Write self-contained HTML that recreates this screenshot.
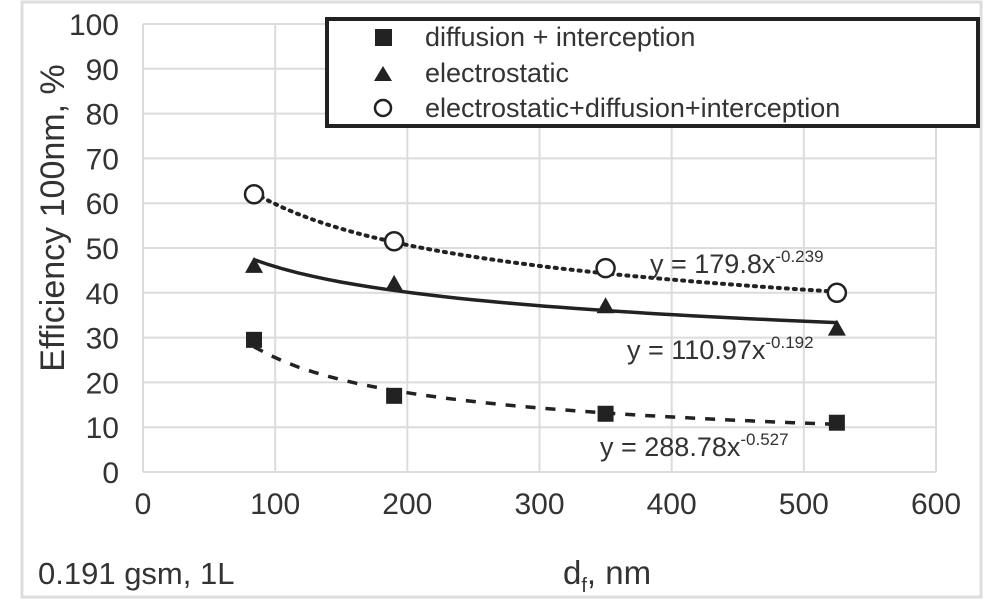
<!DOCTYPE html>
<html><head><meta charset="utf-8"><style>
body{margin:0;background:#fff;}
svg{display:block;font-family:"Liberation Sans",Arial,sans-serif;}
</style></head><body>
<svg id="c" width="1000" height="612" viewBox="0 0 1000 612">
<rect x="22" y="2" width="959" height="595" fill="#fff" stroke="#ddd" stroke-width="3"/>
<g id="grid"></g><g id="axes"></g><g id="series"></g>
<text x="38" y="584" font-size="31" fill="#333">0.191 gsm, 1L</text>
<text x="563" y="584" font-size="33" fill="#333">d<tspan font-size="20" dy="8">f</tspan><tspan dy="-8">, nm</tspan></text>
<text transform="translate(64,218) rotate(-90)" text-anchor="middle" font-size="34" fill="#333">Efficiency 100nm, %</text>
<g>
<rect x="327" y="19" width="651" height="107" fill="#fff" stroke="#222" stroke-width="4"/>
<rect x="375" y="29" width="17" height="17" fill="#222"/>
<text x="425" y="46" font-size="27" fill="#333">diffusion + interception</text>
<polygon points="383,66 374,81 392,81" fill="#222"/>
<text x="425" y="82" font-size="27" fill="#333">electrostatic</text>
<circle cx="383" cy="108" r="8" fill="#fff" stroke="#222" stroke-width="2.5"/>
<text x="425" y="117" font-size="27" fill="#333">electrostatic+diffusion+interception</text>
</g>
<text x="650" y="273" font-size="27" fill="#333">y = 179.8x<tspan font-size="17" dy="-11">-0.239</tspan></text>
<text x="627" y="359" font-size="27" fill="#333">y = 110.97x<tspan font-size="17" dy="-11">-0.192</tspan></text>
<text x="600" y="456" font-size="27" fill="#333">y = 288.78x<tspan font-size="17" dy="-11">-0.527</tspan></text>
</svg>
<script>
const xTicks=[0,100,200,300,400,500,600];
const yTicks=[0,10,20,30,40,50,60,70,80,90,100];
const xVals=[84,190,350,525];
const diffusion=[29.5,17,13,11];
const electrostatic=[46,42,37,32];
const combined=[62,51.5,45.5,40];
const fitA=[288.78,110.97,179.8];
const fitB=[-0.527,-0.192,-0.239];
const NS='http://www.w3.org/2000/svg';
const X=v=>143+v*(936-143)/600;
const Y=v=>472-v*(472-24)/100;
function mk(t,a,p){const e=document.createElementNS(NS,t);for(const k in a)e.setAttribute(k,a[k]);p.appendChild(e);return e;}
const grid=document.getElementById('grid'),axes=document.getElementById('axes'),ser=document.getElementById('series');
yTicks.forEach(v=>{const l=mk('line',{x1:X(0),x2:X(600),y1:Y(v),y2:Y(v),stroke:'#dcdcdc','stroke-width':2},grid);


const t=mk('text',{x:119,y:Y(v)+11,'text-anchor':'end','font-size':30,fill:'#333'},axes);t.textContent=v;

});
xTicks.forEach(v=>{const l=mk('line',{x1:X(v),x2:X(v),y1:Y(0),y2:Y(100),stroke:'#dcdcdc','stroke-width':2},grid);


const t=mk('text',{x:X(v),y:514,'text-anchor':'middle','font-size':30,fill:'#333'},axes);t.textContent=v;

});
const dashes=['10,10','','2,6'];const names=['diffusion','electrostatic','combined'];
[0,1,2].forEach(i=>{let d='';for(let k=0;k<=40;k++){const x=xVals[0]+(xVals[3]-xVals[0])*k/40;const y=fitA[i]*Math.pow(x,fitB[i]);d+=(k?'L':'M')+X(x).toFixed(1)+','+Y(y).toFixed(1);}
const p=mk('path',{d:d,fill:'none',stroke:'#222','stroke-width':i==2?4:3.5,'stroke-dasharray':dashes[i],'stroke-linecap':i==2?'round':'butt'},ser);

});
xVals.forEach((x,j)=>{const cx=X(x);
let s=mk('rect',{x:cx-8,y:Y(diffusion[j])-8,width:16,height:16,fill:'#222'},ser);


let yy=Y(electrostatic[j]);let t=mk('polygon',{points:`${cx},${yy-9} ${cx-9},${yy+7} ${cx+9},${yy+7}`,fill:'#222'},ser);


let c=mk('circle',{cx:cx,cy:Y(combined[j]),r:9,fill:'#fff',stroke:'#222','stroke-width':2.5},ser);

});
</script>
</body></html>
